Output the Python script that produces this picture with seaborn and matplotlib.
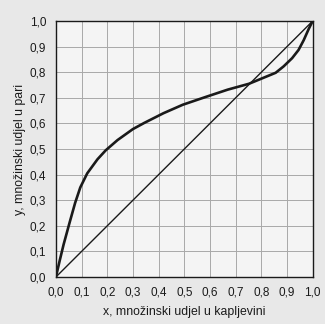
import numpy as np
import pandas as pd
import matplotlib
matplotlib.use("Agg")
import matplotlib.pyplot as plt
import seaborn as sns
from matplotlib.ticker import MultipleLocator, FuncFormatter

# Equilibrium curve (liquid mole fraction x vs vapour mole fraction y)
x_liq = [0.0, 0.015, 0.03, 0.054, 0.075, 0.095, 0.122, 0.162, 0.194, 0.24,
         0.30, 0.344, 0.419, 0.494, 0.582, 0.669, 0.752, 0.81, 0.856, 0.887,
         0.92, 0.945, 0.965, 0.985, 1.0]
y_vap = [0.0, 0.065, 0.127, 0.215, 0.29, 0.35, 0.405, 0.46, 0.495, 0.535,
         0.578, 0.602, 0.64, 0.673, 0.703, 0.732, 0.755, 0.779, 0.798, 0.823,
         0.855, 0.887, 0.925, 0.97, 1.0]
# Diagonal y = x
diag_x = [0.0, 1.0]
diag_y = [0.0, 1.0]
tick_vals = [0.0, 0.1, 0.2, 0.3, 0.4, 0.5, 0.6, 0.7, 0.8, 0.9, 1.0]

x_label = "x, množinski udjel u kapljevini"
y_label = "y, množinski udjel u pari"

sns.set_style("white")
plt.rcParams['font.family'] = ['Liberation Sans', 'DejaVu Sans']

fig = plt.figure(figsize=(3.25, 3.24), dpi=100, facecolor='#e8e8e8')
ax = fig.add_axes([0.172, 0.145, 0.79, 0.79])
ax.set_facecolor('#f4f4f4')

curve = pd.DataFrame({"x": x_liq, "y": y_vap})
diag = pd.DataFrame({"x": diag_x, "y": diag_y})
sns.lineplot(data=curve, x="x", y="y", ax=ax, color='#1a1a1a', linewidth=1.9,
             sort=True, estimator=None)
sns.lineplot(data=diag, x="x", y="y", ax=ax, color='#1a1a1a', linewidth=1.0,
             estimator=None)

ax.set_xlim(0, 1)
ax.set_ylim(0, 1)
ax.set_xticks(tick_vals)
ax.set_yticks(tick_vals)
ax.xaxis.set_minor_locator(MultipleLocator(0.02))
ax.yaxis.set_minor_locator(MultipleLocator(0.02))
fmt = FuncFormatter(lambda v, p: f"{v:.1f}".replace('.', ','))
ax.xaxis.set_major_formatter(fmt)
ax.yaxis.set_major_formatter(fmt)
ax.grid(True, which='major', color='#a8a8a8', linewidth=0.7)
ax.tick_params(which='major', direction='out', length=4, width=0.8,
               labelsize=8.5, colors='#1a1a1a', pad=3)
ax.tick_params(which='minor', direction='out', length=2.5, width=0.7,
               colors='#1a1a1a')
for s in ax.spines.values():
    s.set_color('#1a1a1a')
    s.set_linewidth(1.0)
ax.set_xlabel(x_label, fontsize=8.8, color='#1a1a1a', labelpad=5)
ax.set_ylabel(y_label, fontsize=8.8, color='#1a1a1a', labelpad=3)

fig.savefig("out.png", dpi=100, facecolor=fig.get_facecolor())
